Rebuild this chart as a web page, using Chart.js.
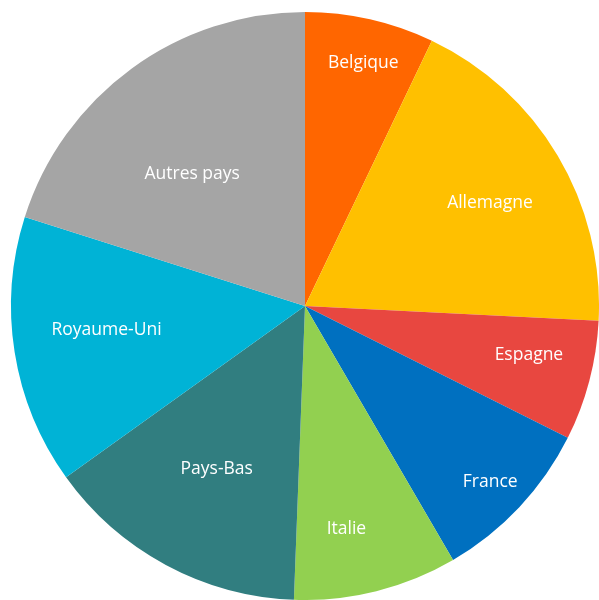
<!DOCTYPE html>
<html>
<head>
<meta charset="utf-8">
<script src="https://cdn.jsdelivr.net/npm/chart.js@4"></script>
<style>
  html, body { margin: 0; padding: 0; background: #fff; }
  #wrap { width: 599px; height: 600px; }
</style>
</head>
<body>
<div id="wrap"><canvas id="pie"></canvas></div>
<script>
// Data (share in %)
const countries = ['Belgique', 'Allemagne', 'Espagne', 'France', 'Italie', 'Pays-Bas', 'Royaume-Uni', 'Autres pays'];
const shares = [7.1, 18.7, 6.6, 9.2, 9.0, 14.5, 14.8, 20.1];
const colors = ['#FF6600', '#FFC000', '#E84740', '#0070C0', '#92D050', '#317E80', '#00B3D6', '#A5A5A5'];

// label placement: fraction of the radius, and a small turn (degrees) off the slice middle
const labelRadius = [0.85, 0.72, 0.78, 0.87, 0.77, 0.63, 0.68, 0.59];
const labelTurn = [0.7, 1.7, -2.3, 0.4, 3.5, 0.2, 2.1, -4.4];

// Labels inside the slices
const sliceLabels = {
    id: 'sliceLabels',
    afterDatasetsDraw(chart) {
        const ctx = chart.ctx;
        const arcs = chart.getDatasetMeta(0).data;
        ctx.save();
        ctx.fillStyle = '#ffffff';
        ctx.font = '17.5px "Open Sans"';
        ctx.textAlign = 'center';
        ctx.textBaseline = 'middle';
        arcs.forEach(function(arc, i) {
            const p = arc.getProps(['x', 'y', 'startAngle', 'endAngle', 'outerRadius'], true);
            const mid = (p.startAngle + p.endAngle) / 2 + labelTurn[i] * Math.PI / 180;
            const r = p.outerRadius * labelRadius[i];
            ctx.fillText(countries[i], p.x + Math.cos(mid) * r, p.y + Math.sin(mid) * r);
        });
        ctx.restore();
    }
};

new Chart(document.getElementById('pie'), {
    type: 'pie',
    data: {
        labels: countries,
        datasets: [{
            data: shares,
            backgroundColor: colors,
            borderWidth: 0
        }]
    },
    options: {
        responsive: true,
        maintainAspectRatio: false,
        animation: false,
        layout: {
            padding: { left: 11, top: 12, right: 0, bottom: 0 }
        },
        plugins: {
            legend: { display: false },
            tooltip: { enabled: false }
        }
    },
    plugins: [sliceLabels]
});
</script>
</body>
</html>
